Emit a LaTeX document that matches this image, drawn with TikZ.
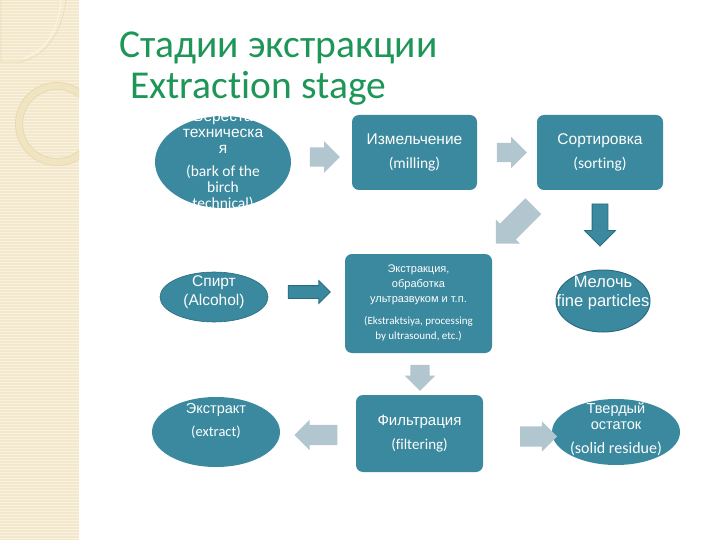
\documentclass[tikz,border=0pt]{standalone}
\usepackage{fontspec}
\setmainfont{Carlito}[Ligatures=NoCommon]
\newfontfamily\arialf{Liberation Sans}
\usetikzlibrary{shapes.geometric,shapes.arrows}
\definecolor{tealbox}{RGB}{58,137,158}
\definecolor{tealdark}{RGB}{40,108,128}
\definecolor{lightarr}{RGB}{178,198,208}
\definecolor{titlegreen}{RGB}{30,150,88}
\definecolor{stripebg}{RGB}{243,232,204}
\definecolor{stripeln}{RGB}{249,242,224}
\definecolor{decoring}{RGB}{240,229,192}
\definecolor{decoedge}{RGB}{232,219,180}
\newcommand\cy[1]{{\arialf #1}}
\tikzset{
  stagebox/.style={rectangle, rounded corners=7pt, fill=tealbox, inner sep=0pt},
  stageoval/.style={ellipse, fill=tealbox, inner sep=0pt},
  txt/.style={text=white, align=center, inner sep=0pt},
  blockarr/.style={single arrow, single arrow head indent=0pt, inner sep=0pt, outer sep=0pt},
  lightblock/.style={blockarr, fill=lightarr},
  darkblock/.style={blockarr, fill=tealbox, draw=tealdark, line width=0.8pt},
  titletxt/.style={text=titlegreen, font=\fontsize{39.5}{40}\selectfont, inner sep=0pt, anchor=base west}
}
\begin{document}
\begin{tikzpicture}[x=1pt,y=-1pt]
\useasboundingbox (0,0) rectangle (720,540);
\fill[white] (0,0) rectangle (720,540);
% left decorative stripe
\fill[stripebg] (0,0) rectangle (79,540);
\foreach \i in {1,4,...,540} {\draw[stripeln, line width=0.9pt] (0,\i) -- (79,\i);}
\begin{scope}
  \clip (0,0) rectangle (79,540);
  \draw[decoedge, line width=8pt] (57,124) circle (38);
  \draw[decoring, line width=6pt] (57,124) circle (38);
  \draw[decoedge, line width=0.6pt] (1,0) -- (1,62) -- (20,62) .. controls (48,56) and (62,30) .. (66,0);
  \draw[stripeln, line width=1.5pt] (24,58) .. controls (48,50) and (58,28) .. (61,0);
\end{scope}
% title
\node[titletxt] (t1) at (119,58) {Стадии экстракции};
\node[titletxt] (t2) at (130,99) {Extraction stage};
% shapes
\node[stageoval, minimum width=136pt, minimum height=92pt] (e1) at (223,162) {};
\node[stagebox, minimum width=125pt, minimum height=75pt] (b1) at (414.5,152.5) {};
\node[stagebox, minimum width=126pt, minimum height=75pt] (b2) at (600,152.5) {};
\node[stageoval, minimum width=108pt, minimum height=50pt, draw=tealdark, line width=0.6pt] (e2) at (214,297) {};
\node[stagebox, minimum width=147pt, minimum height=99pt] (b3) at (418.5,303.5) {};
\node[stageoval, minimum width=94pt, minimum height=62pt, draw=tealdark, line width=1pt] (e3) at (603,301) {};
\node[stageoval, minimum width=128pt, minimum height=70pt] (e4) at (216,432) {};
\node[stagebox, minimum width=127pt, minimum height=77pt] (b4) at (419.5,433.5) {};
\node[stageoval, minimum width=128pt, minimum height=66pt] (e5) at (616,432) {};
% texts
\node[txt, font=\fontsize{15.5}{16}\selectfont] (e1t) at (223,161) {\cy{Береста}\\\cy{техническа}\\\cy{я}\\[7pt](bark of the\\birch\\technical)};
\node[txt, font=\fontsize{15.5}{19}\selectfont] (b1t) at (b1) {\cy{Измельчение}\\[5pt](milling)};
\node[txt, font=\fontsize{15.5}{19}\selectfont] (b2t) at (b2) {\cy{Сортировка}\\[5pt](sorting)};
\node[txt, font=\fontsize{15.5}{19}\selectfont] (e2t) at (214,292) {\cy{Спирт}\\\cy{(Alcohol)}};
\node[txt, font=\fontsize{11}{15}\selectfont] (b3t) at (b3) {\cy{Экстракция,}\\\cy{обработка}\\\cy{ультразвуком и т.п.}\\[7pt](Ekstraktsiya, processing\\by ultrasound, etc.)};
\node[txt, font=\fontsize{16.5}{19}\selectfont] (e3t) at (603,293) {\cy{Мелочь}\\\cy{fine particles}};
\node[txt, font=\fontsize{14.5}{19}\selectfont] (e4t) at (216,421) {\cy{Экстракт}\\[4pt](extract)};
\node[txt, font=\fontsize{15}{19}\selectfont] (b4t) at (b4) {\cy{Фильтрация}\\[5pt](filtering)};
\node[txt, font=\fontsize{14.5}{16}\selectfont] (e5t) at (616,429) {\cy{Твердый}\\\cy{остаток}\\[8pt]{\fontsize{16}{16}\selectfont(solid residue)}};
% block arrows
\node[lightblock, minimum height=30pt, single arrow head extend=6pt] (a1) at (320,157) {\rule{0pt}{19pt}};
\node[lightblock, minimum height=30pt, single arrow head extend=6pt] (a2) at (507,152.5) {\rule{0pt}{19pt}};
\node[lightblock, minimum height=53pt, single arrow head extend=6pt, rotate=225] (a3) at (518.5,221) {\rule{0pt}{22pt}};
\node[darkblock, minimum height=42pt, single arrow head extend=7.5pt, rotate=270] (a4) at (600,221) {\rule{0pt}{15pt}};
\node[darkblock, minimum height=42pt, single arrow head extend=5pt, rotate=0] (a5) at (306,292) {\rule{0pt}{12pt}};
\node[lightblock, minimum height=26pt, single arrow head extend=5.5pt, rotate=270] (a6) at (420,373) {\rule{0pt}{19pt}};
\node[lightblock, minimum height=43pt, single arrow head extend=5pt, rotate=180] (a7) at (321,435) {\rule{0pt}{20pt}};
\node[lightblock, minimum height=37pt, single arrow head extend=5pt] (a8) at (533.5,436.5) {\rule{0pt}{20pt}};
\end{tikzpicture}
\end{document}
